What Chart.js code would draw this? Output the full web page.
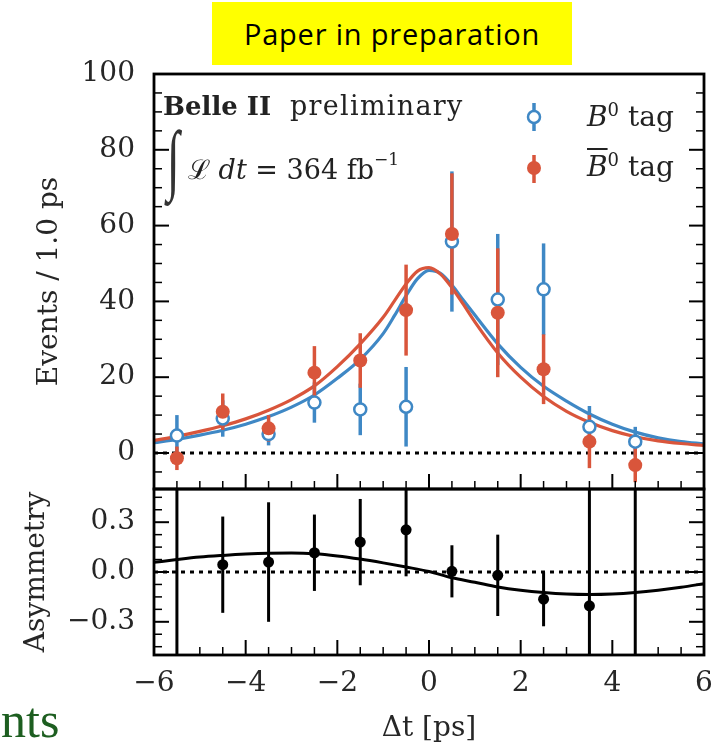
<!DOCTYPE html>
<html><head><meta charset="utf-8">
<script src="https://cdn.jsdelivr.net/npm/chart.js@4.4.1/dist/chart.umd.min.js"></script>
<style>
html,body{margin:0;padding:0;background:#fff;}
body{width:720px;height:746px;position:relative;overflow:hidden;font-family:'DejaVu Serif',serif;}
canvas{position:absolute;left:0;}
#cTop{top:0;z-index:1}
#cBot{top:480px;z-index:2}
.t{position:absolute;white-space:nowrap;line-height:1;color:#222;z-index:5;font-family:'DejaVu Serif',serif;}
</style></head><body>
<div id="paper" style="position:absolute;left:212px;top:2px;width:360px;height:63px;background:#ffff00;font-family:'Open Sans',sans-serif;font-size:29px;letter-spacing:0.8px;line-height:63px;text-align:center;color:#000;z-index:5">Paper in preparation</div>
<canvas id="cTop" width="720" height="500"></canvas>
<canvas id="cBot" width="720" height="266"></canvas>
<div class="t" style="left:163px;top:93px;font-size:26px;"><b>Belle II</b></div>
<div class="t" style="left:290px;top:92px;font-size:27px;letter-spacing:1.3px;">preliminary</div>
<div class="t" style="left:167px;top:120px;font-size:78px;font-family:'Liberation Serif',serif;font-style:italic;transform:scaleX(0.6);transform-origin:left top;color:#333;">∫</div>
<div class="t" style="left:188px;top:155px;font-size:27px;">ℒ <i>dt</i> = 364 fb<sup style="font-size:17px;position:relative;top:-4px;">−1</sup></div>
<div class="t" style="left:587px;top:101px;font-size:28px;"><i>B</i><sup style="font-size:18px;">0</sup> tag</div>
<div class="t" style="left:587px;top:151px;font-size:28px;"><i style="text-decoration:overline;">B</i><sup style="font-size:18px;">0</sup> tag</div>
<div class="t" style="left:1px;top:695px;font-size:50px;font-family:'Liberation Serif',serif;color:#1d5e20;">nts</div>
<script>
// ---------- data ----------
const tBins      = [-5.5, -4.5, -3.5, -2.5, -1.5, -0.5, 0.5, 1.5, 2.5, 3.5, 4.5];
const b0Vals     = [4.6, 9.1, 5.0, 13.3, 11.5, 12.2, 55.8, 40.5, 43.2, 6.9, 3.0];
const b0Err      = [5.4, 4.8, 3.0, 5.3, 6.8, 10.5, 18.5, 17.3, 12.1, 5.5, 3.9];
const b0barVals  = [-1.4, 10.9, 6.5, 21.2, 24.4, 37.7, 57.8, 37.0, 22.1, 3.0, -3.2];
const b0barErr   = [3.1, 4.8, 3.5, 7.0, 7.2, 12.0, 16.0, 17.0, 9.2, 7.0, 4.5];

const fitT       = [-6, -5.5, -5, -4.5, -4, -3.5, -3, -2.5, -2, -1.5, -1, -0.75, -0.5, -0.25, 0, 0.25, 0.5, 0.75, 1, 1.5, 2, 2.5, 3, 3.5, 4, 4.5, 5, 5.5, 6];
const fitB0      = [2.7, 3.6, 4.7, 6.0, 7.6, 9.6, 12.1, 15.3, 19.7, 24.7, 31.5, 36.3, 41.5, 46.0, 48.2, 47.4, 44.3, 40.3, 36.4, 28.8, 22.6, 17.6, 13.7, 10.3, 7.6, 5.5, 4.0, 3.0, 2.4];
const fitB0bar   = [3.3, 4.4, 5.7, 7.2, 9.0, 11.3, 14.1, 17.7, 22.8, 28.8, 35.8, 40.2, 44.6, 48.0, 48.9, 47.2, 43.6, 39.2, 34.6, 26.4, 20.0, 14.9, 11.0, 8.1, 5.9, 4.3, 3.2, 2.5, 2.0];

const asymVals   = [1.2, 0.044, 0.06, 0.116, 0.18, 0.254, 0.004, -0.02, -0.164, -0.204, -1.2];
const asymErr    = [2.0, 0.29, 0.36, 0.23, 0.26, 0.28, 0.157, 0.245, 0.163, 0.8, 2.0];
const asymFitT   = [-6, -5.5, -5, -4.5, -4, -3.5, -3, -2.5, -2, -1.5, -1, -0.5, 0, 0.5, 1, 1.5, 2, 2.5, 3, 3.5, 4, 4.5, 5, 5.5, 6];
const asymFit    = [0.058, 0.075, 0.09, 0.10, 0.108, 0.113, 0.114, 0.11, 0.097, 0.078, 0.055, 0.03, 0.003, -0.035, -0.062, -0.09, -0.11, -0.124, -0.133, -0.136, -0.133, -0.124, -0.11, -0.092, -0.07];

const xTicks       = [-6, -4, -2, 0, 2, 4, 6];
const upperYTicks  = [0, 20, 40, 60, 80, 100];
const lowerYTicks  = [-0.3, 0, 0.3];

// ---------- style ----------
const BLUE = '#3f88c5', RED = '#d9553b', TXT = '#262626';
const SERIF = "'DejaVu Serif', serif";
function steps(a, b, s) { const r = []; for (let v = a; v <= b + 1e-9; v += s) r.push(+v.toFixed(4)); return r; }
const xMinor = steps(-6, 6, 0.5);
const upperYMinor = steps(-5, 100, 5);
const lowerYMinor = steps(-0.45, 0.45, 0.075);
const fmt = (v, d) => (v < -1e-9 ? '\u2212' : '') + Math.abs(v).toFixed(d);

function line(ctx, x1, y1, x2, y2, w) { ctx.lineWidth = w; ctx.beginPath(); ctx.moveTo(x1, y1); ctx.lineTo(x2, y2); ctx.stroke(); }

const panelPlugin = {
  id: 'panel',
  beforeDatasetsDraw(chart, args, o) {
    const { ctx, chartArea: ca, scales: { y } } = chart;
    ctx.save();
    ctx.strokeStyle = '#000'; ctx.setLineDash([4, 5]);
    const p = y.getPixelForValue(0);
    line(ctx, ca.left, p, ca.right, p, 3);
    ctx.restore();
  },
  beforeDatasetDraw(chart, args, o) {
    if (args.index !== o.barsBefore) return;
    const { ctx, chartArea: ca, scales: { x, y } } = chart;
    ctx.save();
    ctx.beginPath(); ctx.rect(ca.left, ca.top, ca.right - ca.left, ca.bottom - ca.top); ctx.clip();
    o.bars.forEach(b => {
      ctx.strokeStyle = b.color;
      tBins.forEach((t, i) => {
        const px = x.getPixelForValue(t);
        line(ctx, px, y.getPixelForValue(b.vals[i] - b.err[i]), px, y.getPixelForValue(b.vals[i] + b.err[i]), b.w);
      });
    });
    ctx.restore();
  },
  afterDraw(chart, args, o) {
    const { ctx, chartArea: ca, scales: { x, y } } = chart;
    ctx.save();
    ctx.strokeStyle = '#000'; ctx.setLineDash([]);
    o.yMajor.forEach(v => { const p = y.getPixelForValue(v); line(ctx, ca.left, p, ca.left + 15, p, 2); line(ctx, ca.right, p, ca.right - 15, p, 2); });
    o.yMinor.forEach(v => { if (o.yMajor.some(m => Math.abs(m - v) < 1e-6)) return; const p = y.getPixelForValue(v); line(ctx, ca.left, p, ca.left + 8, p, 1.5); line(ctx, ca.right, p, ca.right - 8, p, 1.5); });
    xTicks.forEach(v => { const p = x.getPixelForValue(v); line(ctx, p, ca.bottom, p, ca.bottom - 15, 2); });
    xMinor.forEach(v => { if (xTicks.includes(v)) return; const p = x.getPixelForValue(v); line(ctx, p, ca.bottom, p, ca.bottom - 8, 1.5); });
    ctx.lineWidth = 2.8; ctx.strokeRect(ca.left, ca.top, ca.right - ca.left, ca.bottom - ca.top);
    if (o.legend) {
      ctx.strokeStyle = BLUE; line(ctx, 534, 103, 534, 131, 3.5);
      ctx.fillStyle = '#fff'; ctx.lineWidth = 2.5; ctx.beginPath(); ctx.arc(534, 117, 6, 0, Math.PI * 2); ctx.fill(); ctx.stroke();
      ctx.strokeStyle = RED; line(ctx, 534, 155, 534, 183, 3.5);
      ctx.fillStyle = RED; ctx.beginPath(); ctx.arc(534, 168, 7, 0, Math.PI * 2); ctx.fill();
    }
    ctx.restore();
  }
};

const tickFont = { family: SERIF, size: 28 };
function fixY(s) { s.width = 154; s.paddingTop = 0; s.paddingBottom = 0; }

new Chart(document.getElementById('cTop'), {
  type: 'scatter',
  data: { datasets: [
    { label: 'B\u03050 tag', data: tBins.map((t, i) => ({ x: t, y: b0barVals[i] })), pointRadius: 7, pointBackgroundColor: RED, pointBorderColor: RED, pointBorderWidth: 0, order: 0 },
    { label: 'B0 tag', data: tBins.map((t, i) => ({ x: t, y: b0Vals[i] })), pointRadius: 6, pointBackgroundColor: '#fff', pointBorderColor: BLUE, pointBorderWidth: 2.5, order: 1 },
    { type: 'line', label: 'B\u03050 fit', data: fitT.map((t, i) => ({ x: t, y: fitB0bar[i] })), borderColor: RED, borderWidth: 3.2, pointRadius: 0, cubicInterpolationMode: 'monotone', fill: false, order: 2 },
    { type: 'line', label: 'B0 fit', data: fitT.map((t, i) => ({ x: t, y: fitB0[i] })), borderColor: BLUE, borderWidth: 3.2, pointRadius: 0, cubicInterpolationMode: 'monotone', fill: false, order: 3 }
  ] },
  options: {
    responsive: false, animation: false, events: [],
    layout: { padding: { left: 0, right: 16, top: 74, bottom: 11 } },
    plugins: { legend: { display: false }, tooltip: { enabled: false },
      panel: { barsBefore: 1, bars: [ { vals: b0Vals, err: b0Err, color: BLUE, w: 3.5 }, { vals: b0barVals, err: b0barErr, color: RED, w: 3.5 } ],
               yMajor: upperYTicks, yMinor: upperYMinor, legend: true } },
    scales: {
      x: { type: 'linear', min: -6, max: 6, display: false },
      y: { type: 'linear', min: -9.5, max: 100,
        afterFit: fixY,
        afterBuildTicks(s) { s.ticks = upperYTicks.map(v => ({ value: v })); },
        grid: { display: false, drawTicks: false }, border: { display: false },
        ticks: { font: tickFont, color: TXT, padding: 19, callback: v => fmt(v, 0) },
        title: { display: true, text: 'Events / 1.0 ps', font: tickFont, color: TXT, padding: { top: 33, bottom: 0 } } }
    }
  },
  plugins: [panelPlugin]
});

new Chart(document.getElementById('cBot'), {
  type: 'scatter',
  data: { datasets: [
    { label: 'Asymmetry', data: tBins.map((t, i) => ({ x: t, y: asymVals[i] })), pointRadius: 5.5, pointBackgroundColor: '#000', pointBorderColor: '#000', pointBorderWidth: 0, order: 0 },
    { type: 'line', label: 'Asymmetry fit', data: asymFitT.map((t, i) => ({ x: t, y: asymFit[i] })), borderColor: '#000', borderWidth: 3, pointRadius: 0, cubicInterpolationMode: 'monotone', fill: false, order: 1 }
  ] },
  options: {
    responsive: false, animation: false, events: [],
    layout: { padding: { left: 0, right: 16, top: 9, bottom: 0 } },
    plugins: { legend: { display: false }, tooltip: { enabled: false },
      panel: { barsBefore: 0, bars: [ { vals: asymVals, err: asymErr, color: '#000', w: 3 } ],
               yMajor: lowerYTicks, yMinor: lowerYMinor, legend: false } },
    scales: {
      x: { type: 'linear', min: -6, max: 6,
        afterFit(s) { s.height = 91; s.paddingLeft = 0; s.paddingRight = 0; },
        afterBuildTicks(s) { s.ticks = xTicks.map(v => ({ value: v })); },
        grid: { display: false, drawTicks: false }, border: { display: false },
        ticks: { font: tickFont, color: TXT, padding: 12, autoSkip: false, maxRotation: 0, callback: v => fmt(v, 0) },
        title: { display: true, text: '\u0394t [ps]', font: tickFont, color: TXT, padding: { top: 0, bottom: 0 } } },
      y: { type: 'linear', min: -0.5, max: 0.5,
        afterFit: fixY,
        afterBuildTicks(s) { s.ticks = lowerYTicks.map(v => ({ value: v })); },
        grid: { display: false, drawTicks: false }, border: { display: false },
        ticks: { font: tickFont, color: TXT, padding: 19, callback: v => fmt(v, 1) },
        title: { display: true, text: 'Asymmetry', font: tickFont, color: TXT, padding: { top: 20, bottom: 0 } } }
    }
  },
  plugins: [panelPlugin]
});
</script>
</body></html>
